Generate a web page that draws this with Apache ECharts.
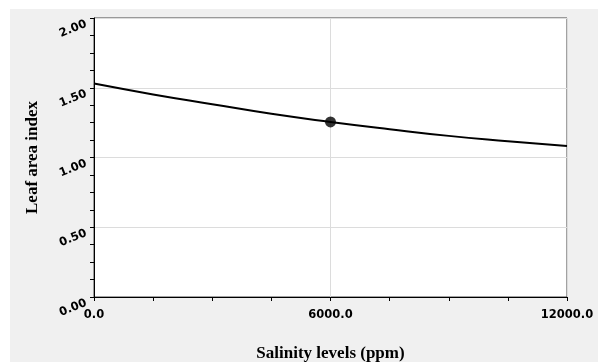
<!DOCTYPE html>
<html>
<head>
<meta charset="utf-8">
<script src="https://cdn.jsdelivr.net/npm/echarts@6/dist/echarts.min.js"></script>
<style>
  html, body { margin: 0; padding: 0; background: #fff; }
  #wrap { position: relative; width: 598px; height: 362px; }
  #bg { position: absolute; left: 10px; top: 9px; right: 0; bottom: 0; background: #f0f0f0; }
  #chart { position: absolute; left: 0; top: 0; width: 598px; height: 362px; }
</style>
</head>
<body>
<div id="wrap">
  <div id="bg"></div>
  <div id="chart"></div>
</div>
<script>
// 叶面积指数 vs 盐度曲线
const salinity = [0, 1500, 3000, 4500, 6000, 7500, 9000, 10500, 12000]
const leafArea = [1.53, 1.452, 1.382, 1.313, 1.255, 1.203, 1.155, 1.117, 1.082]
const markerPoint = [6000, 1.255]

const tickFont = {
  color: '#000',
  fontFamily: 'DejaVu Sans, Verdana, sans-serif',
  fontWeight: 'bold',
  fontSize: 11.5,
}
const nameFont = {
  color: '#000',
  fontFamily: 'Liberation Serif, Times New Roman, serif',
  fontWeight: 'bold',
  fontSize: 17,
}

const chart = echarts.init(document.getElementById('chart'), null, { renderer: 'canvas' })

chart.setOption({
  backgroundColor: 'transparent',
  animation: false,
  grid: {
    left: 94,
    top: 18,
    right: 31,
    bottom: 65,
    outerBoundsMode: 'none',
    containLabel: false,
    show: true,
    backgroundColor: '#fff',
    borderColor: '#444',
    borderWidth: 1,
  },
  xAxis: {
    type: 'value',
    min: 0,
    max: 12000,
    interval: 6000,
    name: 'Salinity levels (ppm)',
    nameLocation: 'middle',
    nameGap: 48,
    nameTextStyle: nameFont,
    axisLine: { show: true, lineStyle: { color: '#000', width: 1 } },
    axisTick: { show: true, length: 4, lineStyle: { color: '#000' } },
    minorTick: { show: true, splitNumber: 4, length: 4, lineStyle: { color: '#000' } },
    axisLabel: Object.assign({ margin: 12, formatter: (v) => v.toFixed(1) }, tickFont),
    splitLine: { show: true, lineStyle: { color: '#dcdcdc', width: 1 } },
  },
  yAxis: {
    type: 'value',
    min: 0,
    max: 2,
    interval: 0.5,
    name: 'Leaf area index',
    nameLocation: 'middle',
    nameGap: 53,
    nameTextStyle: nameFont,
    axisLine: { show: true, lineStyle: { color: '#000', width: 1 } },
    axisTick: { show: true, length: 4, lineStyle: { color: '#000' } },
    minorTick: { show: true, splitNumber: 4, length: 4, lineStyle: { color: '#000' } },
    axisLabel: Object.assign({ margin: 10, rotate: 22, verticalAlign: 'top', formatter: (v) => v.toFixed(2) }, tickFont),
    splitLine: { show: true, lineStyle: { color: '#dcdcdc', width: 1 } },
  },
  series: [
    {
      type: 'line',
      data: salinity.map((x, i) => [x, leafArea[i]]),
      smooth: true,
      showSymbol: false,
      lineStyle: { color: '#000', width: 2 },
      z: 3,
    },
    {
      type: 'scatter',
      data: [markerPoint],
      symbol: 'circle',
      symbolSize: 11,
      itemStyle: { color: '#000' },
      z: 4,
    },
  ],
})
</script>
</body>
</html>
